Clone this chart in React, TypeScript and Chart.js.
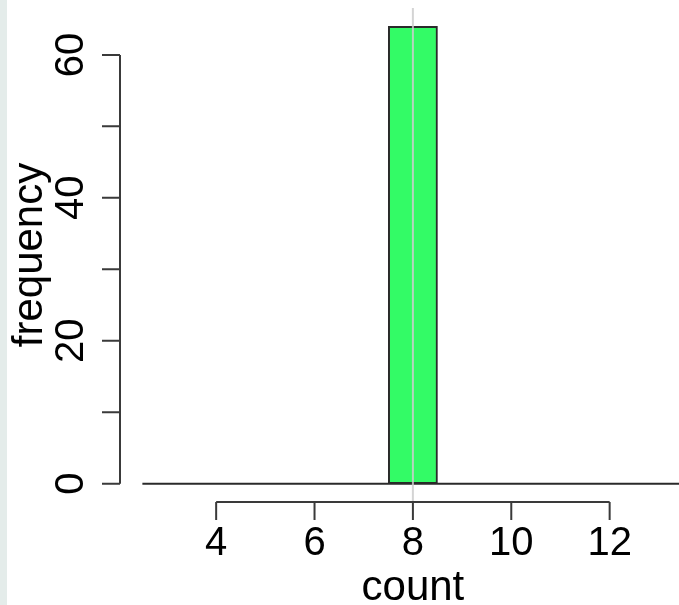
import React, { useEffect, useRef } from "react";
import { Chart, registerables } from "chart.js";

Chart.register(...registerables);

// ---- data ----
const binCenters = [3, 4, 5, 6, 7, 8, 9, 10, 11, 12, 13];
const binCounts = [0, 0, 0, 0, 0, 64, 0, 0, 0, 0, 0];
const meanValue = 8;
const xTicks = [4, 6, 8, 10, 12];
const xTickLabels = ["4", "6", "8", "10", "12"];
const yTicks = [0, 10, 20, 30, 40, 50, 60];
const yTickLabels = ["0", "", "20", "", "40", "", "60"];
const xTitle = "count";
const yTitle = "frequency";

const X_MIN = 2.045;
const X_MAX = 13.41;
const X_MID = 8;
const Y_MIN = -2.56;
const Y_MAX = 66.56;
const Y_MID = 32;

const FONT = '"Liberation Sans", Arial, Helvetica, sans-serif';

const rAxesPlugin = {
  id: "rAxes",
  beforeDraw(chart: any) {
    const ctx = chart.ctx;
    ctx.save();
    ctx.fillStyle = "#ffffff";
    ctx.fillRect(0, 0, chart.width, chart.height);
    ctx.fillStyle = "#e4ecea";
    ctx.fillRect(0, 0, 7, chart.height);
    ctx.restore();
  },
  afterDraw(chart: any) {
    const ctx = chart.ctx;
    const xs = chart.scales.x;
    const ys = chart.scales.y;
    const area = chart.chartArea;
    const tick = 18;
    ctx.save();
    ctx.strokeStyle = "#3a3a3a";
    ctx.lineWidth = 2;
    ctx.fillStyle = "#000";

    // x axis
    const yAx = area.bottom;
    ctx.beginPath();
    ctx.moveTo(xs.getPixelForValue(xTicks[0]), yAx);
    ctx.lineTo(xs.getPixelForValue(xTicks[xTicks.length - 1]), yAx);
    xTicks.forEach((v) => {
      const px = xs.getPixelForValue(v);
      ctx.moveTo(px, yAx);
      ctx.lineTo(px, yAx + tick);
    });
    ctx.stroke();
    ctx.font = `40px ${FONT}`;
    ctx.textAlign = "center";
    ctx.textBaseline = "alphabetic";
    xTicks.forEach((v, i) => {
      ctx.fillText(xTickLabels[i], xs.getPixelForValue(v), yAx + 53);
    });

    // y axis
    const xAx = area.left;
    ctx.beginPath();
    ctx.moveTo(xAx, ys.getPixelForValue(yTicks[0]));
    ctx.lineTo(xAx, ys.getPixelForValue(yTicks[yTicks.length - 1]));
    yTicks.forEach((v) => {
      const py = ys.getPixelForValue(v);
      ctx.moveTo(xAx, py);
      ctx.lineTo(xAx - tick, py);
    });
    ctx.stroke();
    yTicks.forEach((v, i) => {
      if (!yTickLabels[i]) return;
      ctx.save();
      ctx.translate(xAx - 37, ys.getPixelForValue(v));
      ctx.rotate(-Math.PI / 2);
      ctx.fillText(yTickLabels[i], 0, 0);
      ctx.restore();
    });

    // titles
    ctx.font = `42px ${FONT}`;
    ctx.fillText(xTitle, xs.getPixelForValue(X_MID), yAx + 98);
    ctx.save();
    ctx.translate(42, ys.getPixelForValue(Y_MID));
    ctx.rotate(-Math.PI / 2);
    ctx.fillText(yTitle, 0, 0);
    ctx.restore();
    ctx.restore();
  },
};

export default function App() {
  const ref = useRef<HTMLCanvasElement>(null);
  useEffect(() => {
    if (!ref.current) return;
    const firstEdge = binCenters[0] - 0.5;
    const lastEdge = binCenters[binCenters.length - 1] + 0.5;
    const chart = new Chart(ref.current, {
      type: "bar",
      data: {
        datasets: [
          {
            type: "line",
            label: "mean",
            data: [
              { x: meanValue, y: Y_MIN },
              { x: meanValue, y: Y_MAX },
            ],
            borderColor: "rgba(205,205,205,0.85)",
            borderWidth: 2,
            pointRadius: 0,
            order: 0,
            clip: false,
          } as any,
          {
            type: "line",
            label: "base",
            data: [
              { x: firstEdge, y: 0 },
              { x: lastEdge, y: 0 },
            ],
            borderColor: "#2a2a2a",
            borderWidth: 2,
            pointRadius: 0,
            order: 1,
          } as any,
          {
            type: "bar",
            label: "frequency",
            data: binCenters.map((x, i) => ({ x, y: binCounts[i] })),
            backgroundColor: "#33fb66",
            borderColor: "#2a2a2a",
            borderWidth: 2,
            borderSkipped: false,
            barPercentage: 1,
            categoryPercentage: 1,
            order: 2,
          } as any,
        ],
      },
      options: {
        animation: false,
        responsive: false,
        devicePixelRatio: 1,
        layout: { padding: { left: 120, top: 8, right: 0, bottom: 103 } },
        plugins: { legend: { display: false }, tooltip: { enabled: false } },
        scales: {
          x: { type: "linear", min: X_MIN, max: X_MAX, display: false, offset: false },
          y: { type: "linear", min: Y_MIN, max: Y_MAX, display: false },
        },
      },
      plugins: [rAxesPlugin],
    });
    return () => chart.destroy();
  }, []);
  return (
    <div style={{ position: "fixed", left: 0, top: 0, width: 679, height: 605, background: "#fff" }}>
      <canvas ref={ref} width={679} height={605} style={{ display: "block" }} />
    </div>
  );
}
